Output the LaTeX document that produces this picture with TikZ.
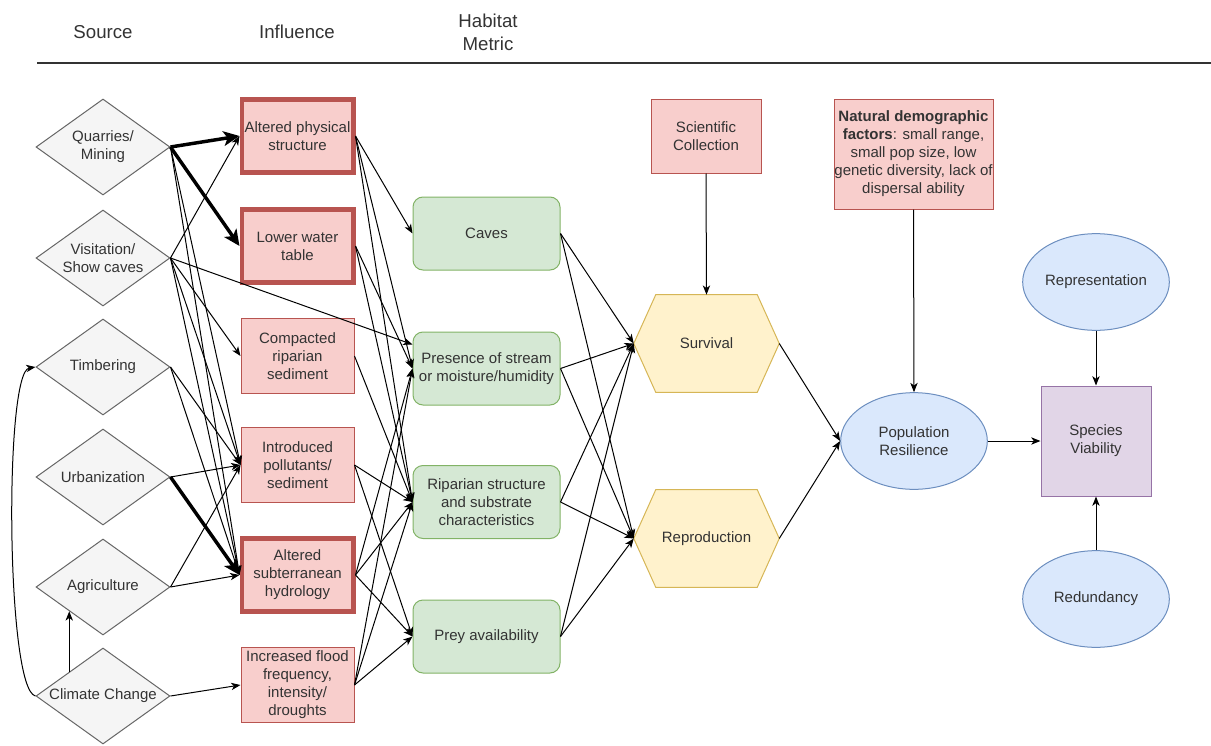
\documentclass[tikz,border=0pt]{standalone}
\usepackage{fontspec}
\setmainfont{Liberation Sans}
\usetikzlibrary{shapes.geometric,arrows.meta,backgrounds}
\definecolor{srcfill}{HTML}{F5F5F5}
\definecolor{srcline}{HTML}{666666}
\definecolor{inffill}{HTML}{F8CECC}
\definecolor{infline}{HTML}{B85450}
\definecolor{habfill}{HTML}{D5E8D4}
\definecolor{habline}{HTML}{82B366}
\definecolor{demfill}{HTML}{FFF2CC}
\definecolor{demline}{HTML}{D6B656}
\definecolor{resfill}{HTML}{DAE8FC}
\definecolor{resline}{HTML}{6C8EBF}
\definecolor{viafill}{HTML}{E1D5E7}
\definecolor{vialine}{HTML}{9673A6}
\definecolor{txt}{HTML}{333333}
\tikzset{
  every node/.style={font=\fontsize{11.25}{13.5}\selectfont,text=txt,align=center,inner sep=0pt},
  headtext/.style={font=\fontsize{14}{17}\selectfont},
  srcnode/.style={diamond,aspect=1.4,draw=srcline,fill=srcfill,line width=0.75pt,minimum width=100.5pt,minimum height=72pt},
  inflnode/.style={rectangle,draw=infline,fill=inffill,line width=0.75pt,minimum width=84.75pt,minimum height=56.25pt},
  inflkey/.style={inflnode,line width=3.5pt,minimum width=83.5pt,minimum height=54.5pt},
  habnode/.style={rectangle,rounded corners=7.5pt,draw=habline,fill=habfill,line width=0.75pt,minimum width=110.25pt,minimum height=54.75pt},
  demnode/.style={rectangle,minimum width=108.75pt,minimum height=72.75pt},
  hexline/.style={draw=demline,fill=demfill,line width=0.75pt},
  resnode/.style={ellipse,draw=resline,fill=resfill,line width=0.75pt,minimum width=110pt,minimum height=72.5pt},
  vianode/.style={rectangle,draw=vialine,fill=viafill,line width=0.75pt,minimum width=82.5pt,minimum height=82.5pt},
  conn/.style={draw=black,line width=0.75pt,-{Stealth[length=7pt,width=5.5pt,inset=2pt]}},
  heavyconn/.style={draw=black,line width=2.6pt,-{Stealth[length=12pt,width=11pt,inset=3pt]}},
  headline/.style={draw=txt,line width=1.1pt}
}
\begin{document}
\begin{tikzpicture}[x=0.75pt,y=-0.75pt]
\useasboundingbox (0,0) rectangle (1211,746);
% column heads
\node[headtext] (srchead) at (103,32) {Source};
\node[headtext] (inflhead) at (297,32) {Influence};
\node[headtext] (habhead) at (488,32) {Habitat\\Metric};
\draw[headline] (37,63) -- (1211,63);
% sources
\node[srcnode] (quarry) at (103,147) {Quarries/\\Mining};
\node[srcnode] (visit) at (103,258) {Visitation/\\Show caves};
\node[srcnode] (timber) at (103,367) {Timbering};
\node[srcnode] (urban) at (103,477) {Urbanization};
\node[srcnode] (agri) at (103,587) {Agriculture};
\node[srcnode] (climate) at (103,696) {Climate Change};
% influences
\node[inflkey] (physical) at (297.5,136) {Altered physical\\structure};
\node[inflkey] (water) at (297.5,246) {Lower water\\table};
\node[inflnode] (compact) at (297.5,356) {Compacted\\riparian\\sediment};
\node[inflnode] (pollut) at (297.5,465) {Introduced\\pollutants/\\sediment};
\node[inflkey] (hydro) at (297.5,575) {Altered\\subterranean\\hydrology};
\node[inflnode] (flood) at (297.5,685) {Increased flood\\frequency,\\intensity/\\droughts};
% habitat metrics
\node[habnode] (caves) at (486.5,233.5) {Caves};
\node[habnode] (stream) at (486.5,368.5) {Presence of stream\\or moisture/humidity};
\node[habnode] (riparian) at (486.5,502) {Riparian structure\\and substrate\\characteristics};
\node[habnode] (prey) at (486.5,636.5) {Prey availability};
% demographics
\node[demnode] (surv) at (706.5,343.5) {Survival};
\node[demnode] (repro) at (706.5,538.5) {Reproduction};
\begin{scope}[on background layer]
\draw[hexline] (surv.west) -- ([xshift=16.5pt]surv.north west) -- ([xshift=-16.5pt]surv.north east) -- (surv.east) -- ([xshift=-16.5pt]surv.south east) -- ([xshift=16.5pt]surv.south west) -- cycle;
\draw[hexline] (repro.west) -- ([xshift=16.5pt]repro.north west) -- ([xshift=-16.5pt]repro.north east) -- (repro.east) -- ([xshift=-16.5pt]repro.south east) -- ([xshift=16.5pt]repro.south west) -- cycle;
\end{scope}
\node[inflnode,minimum width=82.5pt,minimum height=55.5pt] (collect) at (706,136) {Scientific\\Collection};
\node[inflnode,minimum width=119.25pt,minimum height=82.5pt] (natural) at (913.5,154) {\textbf{Natural demographic}\\\textbf{factors}: small range,\\small pop size, low\\genetic diversity, lack of\\dispersal ability};
% resilience and viability
\node[resnode] (popres) at (914,441) {Population\\Resilience};
\node[resnode] (represent) at (1096,282) {Representation};
\node[resnode] (redund) at (1096,599) {Redundancy};
\node[vianode] (viab) at (1096,441) {Species\\Viability};
% source -> influence
\draw[heavyconn] (quarry.east) -- (physical.west);
\draw[heavyconn] (quarry.east) -- (water.west);
\draw[conn] (quarry.east) -- (pollut.west);
\draw[conn] (quarry.east) -- (hydro.west);
\draw[conn] (visit.east) -- (physical.west);
\draw[conn] (visit.east) -- (compact.west);
\draw[conn] (visit.east) -- ([yshift=18pt]stream.west);
\draw[conn] (visit.east) -- (pollut.west);
\draw[conn] (visit.east) -- (hydro.west);
\draw[conn] (timber.east) -- (pollut.west);
\draw[conn] (timber.east) -- (hydro.west);
\draw[conn] (urban.east) -- (pollut.west);
\draw[heavyconn] (urban.east) -- (hydro.west);
\draw[conn] (agri.east) -- (pollut.west);
\draw[conn] (agri.east) -- (hydro.west);
\draw[conn] (climate.east) -- (flood.west);
\draw[conn] (climate.north west) -- (agri.south west);
\draw[conn] (climate.west) .. controls (6,690) and (4,372) .. (timber.west);
% influence -> habitat
\draw[conn] (physical.east) -- (caves.west);
\draw[conn] (physical.east) -- (stream.west);
\draw[conn] (physical.east) -- (riparian.west);
\draw[conn] (water.east) -- (stream.west);
\draw[conn] (water.east) -- (riparian.west);
\draw[conn] (compact.east) -- (riparian.west);
\draw[conn] (pollut.east) -- (riparian.west);
\draw[conn] (pollut.east) -- (prey.west);
\draw[conn] (hydro.east) -- (stream.west);
\draw[conn] (hydro.east) -- (riparian.west);
\draw[conn] (hydro.east) -- (prey.west);
\draw[conn] (flood.east) -- (stream.west);
\draw[conn] (flood.east) -- (riparian.west);
\draw[conn] (flood.east) -- (prey.west);
% habitat -> demographics
\draw[conn] (caves.east) -- (surv.west);
\draw[conn] (caves.east) -- (repro.west);
\draw[conn] (stream.east) -- (surv.west);
\draw[conn] (stream.east) -- (repro.west);
\draw[conn] (riparian.east) -- (surv.west);
\draw[conn] (riparian.east) -- (repro.west);
\draw[conn] (prey.east) -- (surv.west);
\draw[conn] (prey.east) -- (repro.west);
\draw[conn] (collect.south) -- (surv.north);
% demographics -> viability
\draw[conn] (surv.east) -- (popres.west);
\draw[conn] (repro.east) -- (popres.west);
\draw[conn] (natural.south) -- (popres.north);
\draw[conn] (popres.east) -- (viab.west);
\draw[conn] (represent.south) -- (viab.north);
\draw[conn] (redund.north) -- (viab.south);
\end{tikzpicture}
\end{document}
